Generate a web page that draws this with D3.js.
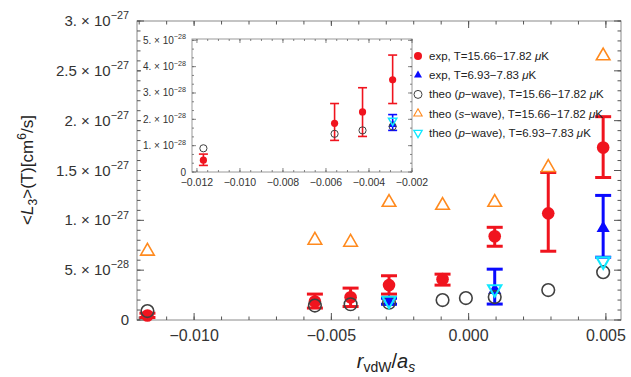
<!DOCTYPE html>
<html>
<head>
<meta charset="utf-8">
<script src="https://cdn.jsdelivr.net/npm/d3@7"></script>
<style>
  body { margin: 0; background: #fff; }
  svg { font-family: "Liberation Sans", Arial, sans-serif; }
</style>
</head>
<body>
<div id="chart"></div>
<script>
// values in units of 1e-28 cm^6/s
const hotExpX  = [-0.0117, -0.0056, -0.0043, -0.0029, -0.00095, 0.00095, 0.0029, 0.0049];
const hotExpY  = [0.45, 1.85, 2.28, 3.5, 4.1, 8.4, 10.7, 17.3];
const hotExpLo = [0.25, 1.2, 1.35, 2.6, 3.5, 7.4, 6.9, 14.3];
const hotExpHi = [0.68, 2.6, 3.2, 4.44, 4.6, 9.3, 14.8, 20.4];

const coldExpX  = [-0.0029, 0.00095, 0.0049];
const coldExpY  = [1.8, 3.0, 9.2];
const coldExpLo = [1.58, 1.6, 6.3];
const coldExpHi = [2.18, 5.1, 12.5];

const theoPHotX = [-0.0117, -0.0056, -0.0043, -0.0029, -0.00095, -0.0001, 0.00095, 0.0029, 0.0049];
const theoPHotY = [0.9, 1.45, 1.58, 1.73, 2.0, 2.2, 2.3, 3.0, 4.8];

const theoSHotX = [-0.0117, -0.0056, -0.0043, -0.0029, -0.00095, 0.00095, 0.0029, 0.0049];
const theoSHotY = [6.9, 8.0, 7.8, 11.8, 11.5, 11.8, 15.3, 26.5];

const theoPColdX = [-0.0029, 0.00095, 0.0049];
const theoPColdY = [1.95, 3.1, 5.9];

const xTicks = [-0.010, -0.005, 0.000, 0.005];
const yTicks = [0, 5, 10, 15, 20, 25, 30];
const insetXTicks = [-0.012, -0.010, -0.008, -0.006, -0.004, -0.002];
const insetYTicks = [0, 1, 2, 3, 4, 5];

const legendLabels = [
  ["exp, T=15.66\u221217.82 ", "\u03bc", "K"],
  ["exp, T=6.93\u22127.83 ", "\u03bc", "K"],
  ["theo (", "p", "\u2212wave), T=15.66\u221217.82 ", "\u03bc", "K"],
  ["theo (", "s", "\u2212wave), T=15.66\u221217.82 ", "\u03bc", "K"],
  ["theo (", "p", "\u2212wave), T=6.93\u22127.83 ", "\u03bc", "K"]
];

const RED = "#f0141e", BLUE = "#0a0aff", CYAN = "#10e8ff", ORANGE = "#ff8a1e", GRAY = "#404040";

const W = 631, H = 377;
const svg = d3.select("#chart").append("svg").attr("width", W).attr("height", H);

const x = d3.scaleLinear().domain([-0.01208, 0.00555]).range([137, 621]);
const y = d3.scaleLinear().domain([0, 30]).range([320, 21]);

const zip = (xs, ys) => xs.map((v, i) => ({x: v, y: ys[i], i: i}));

// mathematica-like "3. x 10^-27"
function sciLabel(sel, v, fs) {
  if (v === 0) { sel.text("0"); return; }
  const val = v * 1e-28;
  const e = Math.floor(Math.log10(val) + 1e-9);
  let m = +(val / Math.pow(10, e)).toFixed(2);
  let ms = Number.isInteger(m) ? m + "." : String(m);
  sel.append("tspan").text(ms + " \u00d7 10");
  sel.append("tspan").attr("dy", -fs * 0.45).attr("font-size", fs * 0.72).text("\u2212" + Math.abs(e));
}

// ---------- main frame ----------
const frame = svg.append("g");
frame.append("rect").attr("x", 137).attr("y", 21).attr("width", 484).attr("height", 299)
  .attr("fill", "none").attr("stroke", "#8a8a8a").attr("stroke-width", 1);

function ticksX(g, scale, vals, top, bottom, len) {
  vals.forEach(v => {
    g.append("line").attr("x1", scale(v)).attr("x2", scale(v)).attr("y1", bottom).attr("y2", bottom - len);
    g.append("line").attr("x1", scale(v)).attr("x2", scale(v)).attr("y1", top).attr("y2", top + len);
  });
}
function ticksY(g, scale, vals, left, right, len) {
  vals.forEach(v => {
    g.append("line").attr("y1", scale(v)).attr("y2", scale(v)).attr("x1", left).attr("x2", left + len);
    g.append("line").attr("y1", scale(v)).attr("y2", scale(v)).attr("x1", right).attr("x2", right - len);
  });
}
const tk = frame.append("g").attr("stroke", "#555").attr("stroke-width", 1);
ticksX(tk, x, d3.range(-12, 6).map(d => d * 0.001), 21, 320, 3.5);
ticksX(tk, x, xTicks, 21, 320, 7);
ticksY(tk, y, d3.range(0, 31), 137, 621, 3.5);
ticksY(tk, y, yTicks, 137, 621, 7);

frame.selectAll(".xl").data(xTicks).join("text")
  .attr("x", d => x(d)).attr("y", 341).attr("text-anchor", "middle")
  .attr("font-size", 16).attr("fill", "#333")
  .text(d => d3.format(".3f")(d).replace("-", "\u2212"));

frame.selectAll(".yl").data(yTicks).join("text")
  .attr("x", 129).attr("y", d => y(d) + 5).attr("text-anchor", "end")
  .attr("font-size", 15).attr("fill", "#333")
  .each(function(d) { sciLabel(d3.select(this), d, 15); });

// axis titles
const xt = svg.append("text").attr("x", 386).attr("y", 368).attr("text-anchor", "middle")
  .attr("font-size", 20).attr("fill", "#222");
xt.append("tspan").attr("font-style", "italic").text("r");
xt.append("tspan").attr("dy", 4).attr("font-size", 14).text("vdW");
xt.append("tspan").attr("dy", -4).text("/");
xt.append("tspan").attr("font-style", "italic").text("a");
xt.append("tspan").attr("dy", 4).attr("font-size", 14).attr("font-style", "italic").text("s");

const yt = svg.append("text").attr("transform", "translate(33,170) rotate(-90)")
  .attr("text-anchor", "middle").attr("font-size", 17).attr("fill", "#222");
yt.append("tspan").text("<");
yt.append("tspan").attr("font-style", "italic").text("L");
yt.append("tspan").attr("dy", 4).attr("font-size", 12).text("3");
yt.append("tspan").attr("dy", -4).text(">(T)[cm");
yt.append("tspan").attr("dy", -7).attr("font-size", 12).text("6");
yt.append("tspan").attr("dy", 7).text("/s]");

// ---------- marks ----------
function drawSeries(g, sx, sy, o) {
  const tri = (size) => d3.symbol().type(d3.symbolTriangle).size(size);
  // error bars
  function bars(xs, lo, hi, color) {
    const d = xs.map((v, i) => ({x: v, lo: lo[i], hi: hi[i]}));
    const eg = g.append("g").attr("stroke", color).attr("stroke-width", o.ew);
    eg.selectAll(".v").data(d).join("line")
      .attr("x1", d => sx(d.x)).attr("x2", d => sx(d.x)).attr("y1", d => sy(d.lo)).attr("y2", d => sy(d.hi));
    eg.selectAll(".lo").data(d).join("line")
      .attr("x1", d => sx(d.x) - o.cap).attr("x2", d => sx(d.x) + o.cap).attr("y1", d => sy(d.lo)).attr("y2", d => sy(d.lo));
    eg.selectAll(".hi").data(d).join("line")
      .attr("x1", d => sx(d.x) - o.cap).attr("x2", d => sx(d.x) + o.cap).attr("y1", d => sy(d.hi)).attr("y2", d => sy(d.hi));
  }
  bars(hotExpX, hotExpLo, hotExpHi, RED);
  g.selectAll(".hot").data(zip(hotExpX, hotExpY)).join("circle")
    .attr("cx", d => sx(d.x)).attr("cy", d => sy(d.y)).attr("r", o.r).attr("fill", RED);
  bars(coldExpX, coldExpLo, coldExpHi, BLUE);
  g.selectAll(".cold").data(zip(coldExpX, coldExpY)).join("path")
    .attr("d", tri(o.tri)).attr("transform", d => `translate(${sx(d.x)},${sy(d.y)})`).attr("fill", BLUE);
  g.selectAll(".tp").data(zip(theoPHotX, theoPHotY)).join("circle")
    .attr("cx", d => sx(d.x)).attr("cy", d => sy(d.y)).attr("r", o.r)
    .attr("fill", "none").attr("stroke", GRAY).attr("stroke-width", o.sw);
  g.selectAll(".ts").data(zip(theoSHotX, theoSHotY)).join("path")
    .attr("d", tri(o.otri)).attr("transform", d => `translate(${sx(d.x)},${sy(d.y)})`)
    .attr("fill", "none").attr("stroke", ORANGE).attr("stroke-width", o.sw);
  g.selectAll(".tc").data(zip(theoPColdX, theoPColdY)).join("path")
    .attr("d", tri(o.tri)).attr("transform", d => `translate(${sx(d.x)},${sy(d.y)}) rotate(180)`)
    .attr("fill", "none").attr("stroke", CYAN).attr("stroke-width", o.sw + 0.5);
}
drawSeries(svg.append("g"), x, y, {r: 6.3, ew: 3, cap: 8, tri: 75, otri: 80, sw: 1.6});

// ---------- inset ----------
const ix = d3.scaleLinear().domain([-0.01223, -0.002]).range([192, 412]);
const iy = d3.scaleLinear().domain([0, 5.05]).range([172, 39]);
const inset = svg.append("g");
inset.append("rect").attr("x", 141).attr("y", 26).attr("width", 274).attr("height", 164).attr("fill", "#fff");
inset.append("rect").attr("x", 192).attr("y", 39).attr("width", 220).attr("height", 133)
  .attr("fill", "none").attr("stroke", "#9a9a9a").attr("stroke-width", 1);
const itk = inset.append("g").attr("stroke", "#666").attr("stroke-width", 0.8);
ticksX(itk, ix, d3.range(-24, -3).map(d => d * 0.0005), 39, 172, 2);
ticksX(itk, ix, insetXTicks, 39, 172, 4);
ticksY(itk, iy, d3.range(0, 16).map(d => d / 3), 192, 412, 2);
ticksY(itk, iy, insetYTicks, 192, 412, 4);

inset.selectAll(".ixl").data(insetXTicks).join("text")
  .attr("x", d => ix(d)).attr("y", 186).attr("text-anchor", "middle")
  .attr("font-size", 10.5).attr("fill", "#333")
  .text(d => d3.format(".3f")(d).replace("-", "\u2212"));
inset.selectAll(".iyl").data(insetYTicks).join("text")
  .attr("x", 186).attr("y", d => iy(d) + 3.5).attr("text-anchor", "end")
  .attr("font-size", 10).attr("fill", "#333")
  .each(function(d) { sciLabel(d3.select(this), d, 10); });

svg.append("clipPath").attr("id", "iclip").append("rect")
  .attr("x", 192).attr("y", 39).attr("width", 220).attr("height", 133);
drawSeries(inset.append("g").attr("clip-path", "url(#iclip)"), ix, iy,
  {r: 3.6, ew: 1.6, cap: 4.5, tri: 30, otri: 30, sw: 1});

// ---------- legend ----------
const lg = svg.append("g").attr("transform", "translate(418,56)");
const markers = [
  g => g.append("circle").attr("r", 4).attr("fill", RED),
  g => g.append("path").attr("d", d3.symbol().type(d3.symbolTriangle).size(28)()).attr("fill", BLUE),
  g => g.append("circle").attr("r", 4).attr("fill", "none").attr("stroke", GRAY).attr("stroke-width", 1),
  g => g.append("path").attr("d", d3.symbol().type(d3.symbolTriangle).size(30)())
        .attr("fill", "none").attr("stroke", ORANGE).attr("stroke-width", 1.1),
  g => g.append("path").attr("d", d3.symbol().type(d3.symbolTriangle).size(30)()).attr("transform", "rotate(180)")
        .attr("fill", "none").attr("stroke", CYAN).attr("stroke-width", 1.3)
];
legendLabels.forEach((parts, i) => {
  const row = lg.append("g").attr("transform", `translate(0,${i * 19.2})`);
  markers[i](row);
  const t = row.append("text").attr("x", 11).attr("y", 4).attr("font-size", 11.5).attr("fill", "#222");
  parts.forEach(p => {
    const ts = t.append("tspan").text(p);
    if (p === "p" || p === "s" || p === "\u03bc") ts.attr("font-style", "italic");
  });
});
</script>
</body>
</html>
